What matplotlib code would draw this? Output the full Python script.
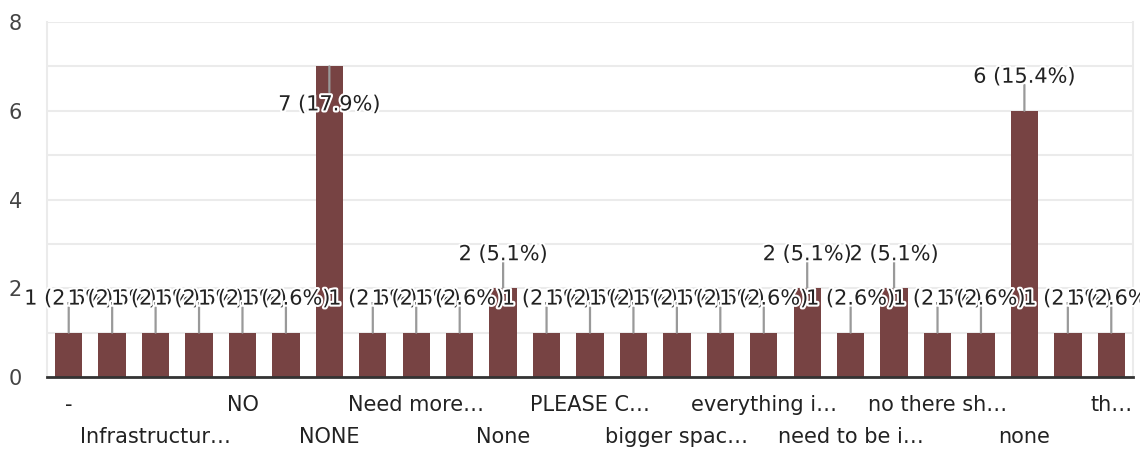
import matplotlib
matplotlib.use("Agg")
import matplotlib.pyplot as plt
import matplotlib.patheffects as pe

# ---- data ----
tick_labels = ["-", "", "Infrastructur…", "", "NO", "", "NONE", "", "Need more…", "",
               "None", "", "PLEASE C…", "", "bigger spac…", "", "everything i…", "",
               "need to be i…", "", "no there sh…", "", "none", "", "th…"]
values = [1, 1, 1, 1, 1, 1, 7, 1, 1, 1, 2, 1, 1, 1, 1, 1, 1, 2, 1, 2, 1, 1, 6, 1, 1]
total = sum(values)

BAR = "#774343"
FS = 15
plt.rcParams["font.family"] = ["DejaVu Sans"]

fig = plt.figure(figsize=(11.4, 4.5), dpi=100)
ax = fig.add_axes([47 / 1140, 1 - 377 / 450, (1133 - 47) / 1140, (377 - 22) / 450])

x = list(range(len(values)))
ax.bar(x, values, width=0.63, color=BAR, zorder=2)

ax.set_xlim(-0.5, len(values) - 0.5)
ax.set_ylim(0, 8)
ax.set_yticks([0, 2, 4, 6, 8])
ax.set_yticks([1, 3, 5, 7], minor=True)
ax.tick_params(axis="y", which="both", length=0, pad=18, labelsize=FS, labelcolor="#444444")
ax.set_xticks([])
ax.grid(axis="y", which="both", color="#ebebeb", linewidth=1.5, zorder=0)
ax.set_axisbelow(True)
for s in ["top"]:
    ax.spines[s].set_visible(False)
for s in ["left", "right"]:
    ax.spines[s].set_color("#ebebeb")
    ax.spines[s].set_linewidth(1.5)
ax.spines["bottom"].set_color("#333333")
ax.spines["bottom"].set_linewidth(2)
ax.spines["bottom"].set_zorder(5)

# connector lines first
for i, v in zip(x, values):
    down = v > 8 - 1.2
    dy = -18.7 if down else 18.7
    ax.annotate("", xy=(i, v), xytext=(0, dy), textcoords="offset points",
                arrowprops=dict(arrowstyle="-", color="#999999", lw=1.6,
                                shrinkA=0, shrinkB=0), zorder=3)

# labels
halo = [pe.withStroke(linewidth=3, foreground="white")]
for i, v in zip(x, values):
    down = v > 8 - 1.2
    dy = -27.4 if down else 24.5
    pct = 100 * v / total
    ax.annotate(f"{v} ({pct:.1f}%)", xy=(i, v), xytext=(0, dy), textcoords="offset points",
                ha="center", va="center", fontsize=FS, color="#222222",
                path_effects=halo, zorder=4, annotation_clip=False)

# category labels in two alternating rows
shown = [i for i, t in enumerate(tick_labels) if t]
for k, i in enumerate(shown):
    dy = -20 if k % 2 == 0 else -43
    ax.annotate(tick_labels[i], xy=(i, 0), xycoords=("data", "axes fraction"),
                xytext=(0, dy), textcoords="offset points", ha="center", va="center",
                fontsize=FS, color="#222222", annotation_clip=False)

fig.savefig("out.png", dpi=100, facecolor="white")
